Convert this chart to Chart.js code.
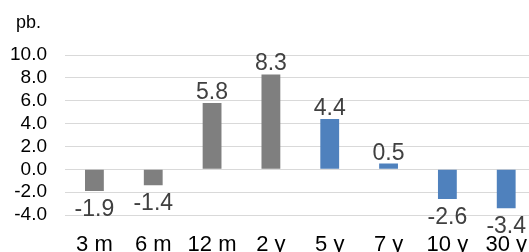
<!DOCTYPE html>
<html>
<head>
<meta charset="utf-8">
<script src="https://cdn.jsdelivr.net/npm/chart.js@4/dist/chart.umd.min.js"></script>
<style>
  html, body { margin: 0; padding: 0; background: #fff; overflow: hidden; }
  #wrap { width: 536px; height: 252px; }
</style>
</head>
<body>
<div id="wrap"><canvas id="curveChart" width="536" height="252"></canvas></div>
<script>
// --- Data ---
const tenors = ['3 m', '6 m', '12 m', '2 y', '5 y', '7 y', '10 y', '30 y'];
const changes = [-1.9, -1.4, 5.8, 8.3, 4.4, 0.5, -2.6, -3.4];
const barColors = ['#7f7f7f', '#7f7f7f', '#7f7f7f', '#7f7f7f', '#4f81bd', '#4f81bd', '#4f81bd', '#4f81bd'];
const yTicks = [-4, -2, 0, 2, 4, 6, 8, 10];
const unitLabel = 'pb.';

const fontFamily = '"Liberation Sans", Arial, sans-serif';

// value labels above / below each bar, plus the unit text
const valueLabels = {
    id: 'valueLabels',
    afterDatasetsDraw(chart) {
        const ctx = chart.ctx;
        const meta = chart.getDatasetMeta(0);
        ctx.save();
        ctx.font = '23px ' + fontFamily;
        ctx.fillStyle = '#404040';
        ctx.textAlign = 'center';
        ctx.textBaseline = 'alphabetic';
        meta.data.forEach((bar, i) => {
            const v = changes[i];
            // above positive bars, below negative ones
            const y = v >= 0 ? bar.y - 4 : bar.y + 25;
            ctx.fillText(v.toFixed(1), bar.x, y);
        });
        ctx.font = '18px ' + fontFamily;
        ctx.fillStyle = '#000';
        ctx.textAlign = 'left';
        ctx.fillText(unitLabel, 16, 28);
        ctx.restore();
    }
};

new Chart(document.getElementById('curveChart').getContext('2d'), {
    type: 'bar',
    data: {
        labels: tenors,
        datasets: [{
            data: changes,
            backgroundColor: barColors,
            borderWidth: 0,
            categoryPercentage: 1,
            barPercentage: 0.32
        }]
    },
    options: {
        responsive: false,
        animation: false,
        layout: { padding: { top: 55, right: 0, bottom: 0, left: 0 } },
        plugins: { legend: { display: false }, tooltip: { enabled: false } },
        scales: {
            x: {
                grid: { display: false },
                border: { display: false },
                ticks: { color: '#000', font: { size: 22, family: fontFamily }, padding: 9, maxRotation: 0, autoSkip: false },
                afterFit: s => { s.height = 37; }
            },
            y: {
                min: -4,
                max: 10,
                afterBuildTicks: s => { s.ticks = yTicks.map(v => ({ value: v })); },
                grid: { color: '#d9d9d9', lineWidth: 1, drawTicks: false },
                border: { display: false },
                ticks: { color: '#000', font: { size: 19, family: fontFamily }, padding: 18, autoSkip: false, callback: v => v.toFixed(1) },
                afterFit: s => { s.width = 65; }
            }
        }
    },
    plugins: [valueLabels]
});
</script>
</body>
</html>
